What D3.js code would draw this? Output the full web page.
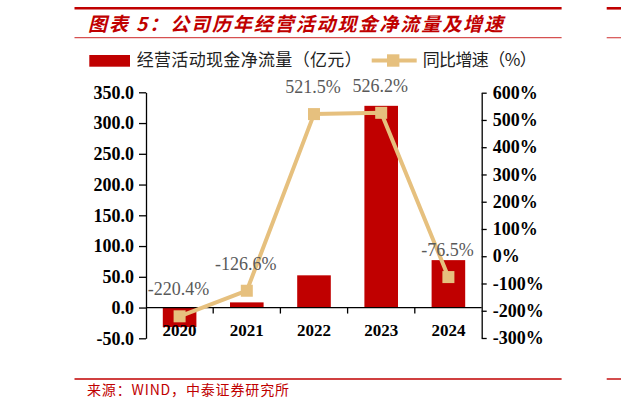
<!DOCTYPE html>
<html lang="zh">
<head>
  <meta charset="UTF-8">
  <title>公司历年经营活动现金净流量及增速</title>
  <script src="https://d3js.org/d3.v7.min.js"></script>
  <style>
    body {
      margin: 0;
      background: #fff;
    }
    .num {
      font-family: "Liberation Serif", "Times New Roman", serif;
    }
    .cjk {
      font-family: "Noto Sans CJK SC", sans-serif;
    }
  </style>
</head>
<body>

<script>
  // Données
  var years = ["2020", "2021", "2022", "2023", "2024"];
  var cashFlow = [-31.7, 8.4, 52.4, 328.0, 77.1];     // 亿元
  var growth = [-220.4, -126.6, 521.5, 526.2, -76.5];  // %
  var leftTicks = [-50, 0, 50, 100, 150, 200, 250, 300, 350];
  var rightTicks = [-300, -200, -100, 0, 100, 200, 300, 400, 500, 600];

  var red = "#C00000",
      gold = "#E6C07E",
      W = 621, H = 410;

  // format avec un tiret simple comme signe moins
  var loc = d3.formatLocale({ decimal: ".", thousands: ",", grouping: [3], currency: ["", ""], minus: "-" });
  var f1 = loc.format(".1f");

  var svg = d3.select("body")
              .append("svg")
              .attr("width", W)
              .attr("height", H);

  // Échelles
  var x = d3.scaleBand()
            .domain(years)
            .range([146, 482])
            .paddingInner(0.5)
            .paddingOuter(0.25);

  var yL = d3.scaleLinear().domain([-50, 350]).range([338.3, 92.3]);
  var yR = d3.scaleLinear().domain([-300, 600]).range([338, 92.7]);

  // Filets rouges (haut, sous le titre, pied)
  [[8.3, 2.6, red], [37.7, 1.2, "#D65050"], [379, 1.4, red]].forEach(function (r) {
    svg.append("line").attr("x1", 74.5).attr("x2", 561.6)
       .attr("y1", r[0]).attr("y2", r[0])
       .attr("stroke", r[2]).attr("stroke-width", r[1]);
    svg.append("line").attr("x1", 606.7).attr("x2", W)
       .attr("y1", r[0]).attr("y2", r[0])
       .attr("stroke", r[2]).attr("stroke-width", r[1]);
  });

  // Titre
  svg.append("text")
     .attr("class", "cjk")
     .attr("x", 88).attr("y", 31)
     .attr("font-size", 19)
     .attr("font-weight", "bold")
     .attr("font-style", "italic")
     .attr("fill", red)
     .attr("textLength", 415)
     .attr("lengthAdjust", "spacing")
     .text("图表 5：公司历年经营活动现金净流量及增速");

  // Légende
  svg.append("rect")
     .attr("x", 89.3).attr("y", 55)
     .attr("width", 40.7).attr("height", 11.7)
     .attr("fill", red);
  svg.append("text")
     .attr("class", "cjk")
     .attr("x", 136.7).attr("y", 66)
     .attr("font-size", 17)
     .attr("fill", "#222")
     .attr("textLength", 225)
     .attr("lengthAdjust", "spacing")
     .text("经营活动现金净流量（亿元）");
  svg.append("line")
     .attr("x1", 371.7).attr("x2", 416.7)
     .attr("y1", 60.5).attr("y2", 60.5)
     .attr("stroke", gold).attr("stroke-width", 4);
  svg.append("rect")
     .attr("x", 387).attr("y", 54.3)
     .attr("width", 12.4).attr("height", 12.4)
     .attr("fill", gold);
  svg.append("text")
     .attr("class", "cjk")
     .attr("x", 422.7).attr("y", 66)
     .attr("font-size", 17)
     .attr("fill", "#222")
     .attr("textLength", 114)
     .attr("lengthAdjust", "spacing")
     .text("同比增速（%）");

  // Barres
  svg.selectAll(".bar")
     .data(cashFlow)
     .enter()
     .append("rect")
     .attr("class", "bar")
     .attr("x", (d, i) => x(years[i]))
     .attr("width", x.bandwidth())
     .attr("y", d => yL(Math.max(0, d)))
     .attr("height", d => Math.abs(yL(d) - yL(0)))
     .attr("fill", red);

  // Axe Y gauche
  var axL = svg.append("g")
     .attr("class", "num")
     .attr("transform", "translate(146,0)")
     .call(d3.axisLeft(yL).tickValues(leftTicks).tickFormat(f1)
             .tickSize(7).tickPadding(5).tickSizeOuter(0));

  // Axe Y droit
  var axR = svg.append("g")
     .attr("class", "num")
     .attr("transform", "translate(481.7,0)")
     .call(d3.axisRight(yR).tickValues(rightTicks).tickFormat(d => d + "%")
             .tickSize(5).tickPadding(6).tickSizeOuter(0));

  [axL, axR].forEach(function (g) {
    g.select(".domain").attr("stroke", "#000").attr("stroke-width", 1.3);
    g.selectAll(".tick line").attr("stroke", "#000").attr("stroke-width", 1.3);
    g.selectAll(".tick text")
     .attr("fill", "#000")
     .attr("font-size", 18)
     .attr("font-weight", "bold")
     .attr("font-family", "Liberation Serif, serif");
  });

  // Axe X (à y = 0) avec graduations entre catégories
  var y0 = yL(0);
  svg.append("line")
     .attr("x1", 146).attr("x2", 481.7)
     .attr("y1", y0).attr("y2", y0)
     .attr("stroke", "#000").attr("stroke-width", 1.3);
  svg.selectAll(".xtick")
     .data(years.slice(0, -1))
     .enter()
     .append("line")
     .attr("class", "xtick")
     .attr("x1", d => x(d) + x.bandwidth() + x.step() * 0.25)
     .attr("x2", d => x(d) + x.bandwidth() + x.step() * 0.25)
     .attr("y1", y0).attr("y2", y0 + 6)
     .attr("stroke", "#000").attr("stroke-width", 1.3);

  // Ligne de croissance
  var cx = (d, i) => x(years[i]) + x.bandwidth() / 2;
  var lineGen = d3.line()
                  .x(cx)
                  .y(d => yR(d));

  svg.append("path")
     .datum(growth)
     .attr("fill", "none")
     .attr("stroke", gold)
     .attr("stroke-width", 4)
     .attr("stroke-linejoin", "round")
     .attr("d", lineGen);

  svg.selectAll(".mark")
     .data(growth)
     .enter()
     .append("rect")
     .attr("class", "mark")
     .attr("x", (d, i) => cx(d, i) - 6)
     .attr("y", d => yR(d) - 6)
     .attr("width", 12).attr("height", 12)
     .attr("fill", gold);

  // Libellés X (par-dessus les barres)
  svg.selectAll(".xlab")
     .data(years)
     .enter()
     .append("text")
     .attr("class", "num")
     .attr("x", d => x(d) + x.bandwidth() / 2)
     .attr("y", 336)
     .attr("text-anchor", "middle")
     .attr("font-size", 17)
     .attr("font-weight", "bold")
     .attr("fill", "#000")
     .text(d => d);

  // Étiquettes de données
  svg.selectAll(".dlab")
     .data(growth)
     .enter()
     .append("text")
     .attr("class", "num")
     .attr("x", (d, i) => cx(d, i) - 1)
     .attr("y", d => yR(d) - 21)
     .attr("text-anchor", "middle")
     .attr("font-size", 18)
     .attr("fill", "#595959")
     .text(d => f1(d) + "%");

  // Source
  svg.append("text")
     .attr("class", "cjk")
     .attr("x", 87).attr("y", 395)
     .attr("font-size", 14)
     .attr("fill", red)
     .attr("textLength", 202)
     .attr("lengthAdjust", "spacing")
     .text("来源：WIND，中泰证券研究所");
</script>

</body>
</html>
